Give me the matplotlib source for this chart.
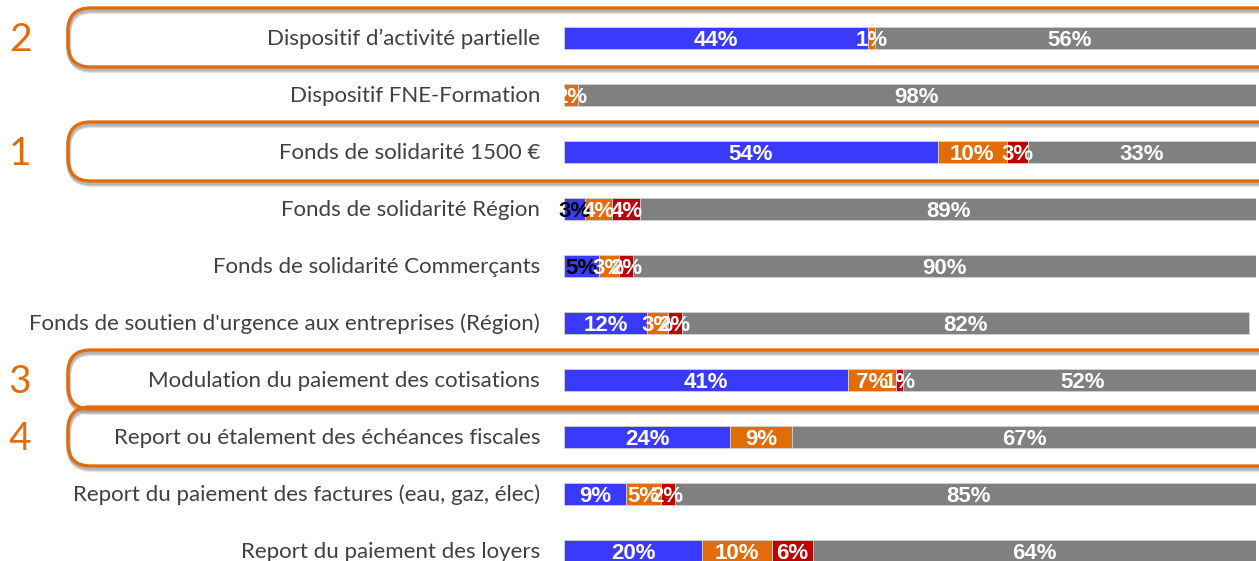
import matplotlib
matplotlib.use('Agg')
import matplotlib.pyplot as plt
from matplotlib.patches import FancyBboxPatch

categories = [
    "Dispositif d\u2019activité partielle",
    "Dispositif FNE-Formation",
    "Fonds de solidarité 1500 €",
    "Fonds de solidarité Région",
    "Fonds de solidarité Commerçants",
    "Fonds de soutien d'urgence aux entreprises (Région)",
    "Modulation du paiement des cotisations",
    "Report ou étalement des échéances fiscales",
    "Report du paiement des factures (eau, gaz, élec)",
    "Report du paiement des loyers",
]
blue_vals = [44, 0, 54, 3, 5, 12, 41, 24, 9, 20]
orange_vals = [1, 2, 10, 4, 3, 3, 7, 9, 5, 10]
red_vals = [0, 0, 3, 4, 2, 2, 1, 0, 2, 6]
gray_vals = [56, 98, 33, 89, 90, 82, 52, 67, 85, 64]

# highlighted rows: (row index, rank label)
highlights = [(0, "2"), (2, "1"), (6, "3"), (7, "4")]

colors = ["#3a3aff", "#e36c0a", "#c00000", "#808080"]
ORANGE = "#e36c0a"

W, H = 1259, 561
fig = plt.figure(figsize=(W / 100, H / 100), dpi=100)
fig.patch.set_facecolor("white")

# axes: bars from x=564 to 1256 px, rows centred at 38 + 57*i px
left, right = 564, 1256
top_px = 9.5
ax = fig.add_axes([left / W, 0, (right - left) / W, (H - top_px) / H])
ax.set_xlim(0, 100)
ax.set_ylim((H - 38) / 57, -0.5)
ax.axis("off")

def px_to_fig(x, y):
    return x / W, 1 - y / H

# rounded highlight boxes drawn in figure coordinates
for row, rank in highlights:
    yc = 38 + 57 * row
    y0, y1 = yc - 30, yc + 29
    x0, x1 = 68, 1290
    fx0, fy1 = px_to_fig(x0, y1)
    fx1, fy0 = px_to_fig(x1, y0)
    for dx, dy, a in [(1, 4, 0.25), (1, 3, 0.35), (0, 2, 0.45)]:
        sx0, sy1 = px_to_fig(x0 + dx, y1 + dy)
        sh = FancyBboxPatch((sx0, sy1), fx1 - fx0, fy0 - fy1,
                            boxstyle="round,pad=0,rounding_size=0.018",
                            transform=fig.transFigure, fill=False,
                            edgecolor="#9a9a9a", linewidth=3, alpha=a,
                            mutation_aspect=W / H, zorder=0)
        fig.patches.append(sh)
    box = FancyBboxPatch((fx0, fy1), fx1 - fx0, fy0 - fy1,
                         boxstyle="round,pad=0,rounding_size=0.018",
                         transform=fig.transFigure, fill=False,
                         edgecolor=ORANGE, linewidth=2.4,
                         mutation_aspect=W / H, zorder=1)
    fig.patches.append(box)
    fig.text(20 / W, 1 - (yc + 2) / H, rank, color=ORANGE, fontsize=28,
             family="Lato", ha="center", va="center")

ypos = list(range(len(categories)))
series = [blue_vals, orange_vals, red_vals, gray_vals]
starts = [0] * len(categories)
for s, vals in enumerate(series):
    ax.barh(ypos, vals, left=starts, height=0.39, color=colors[s],
            edgecolor="#d0d0d0", linewidth=0.6, zorder=3)
    for i, v in enumerate(vals):
        if v > 0:
            tc = "white"
            if s == 0 and v <= 5:
                tc = "black"
            ax.text(starts[i] + v / 2, i + 0.04, f"{v}%", ha="center",
                    va="center", color=tc, fontsize=16, fontweight="bold",
                    family="Liberation Sans", zorder=5, clip_on=False)
    starts = [a + b for a, b in zip(starts, vals)]

for i, cat in enumerate(categories):
    fig.text(540 / W, 1 - (38 + 57 * i + 1) / H, cat, ha="right",
             va="center", fontsize=16, color="#404040", family="Lato")

fig.savefig("out.png", dpi=100)
